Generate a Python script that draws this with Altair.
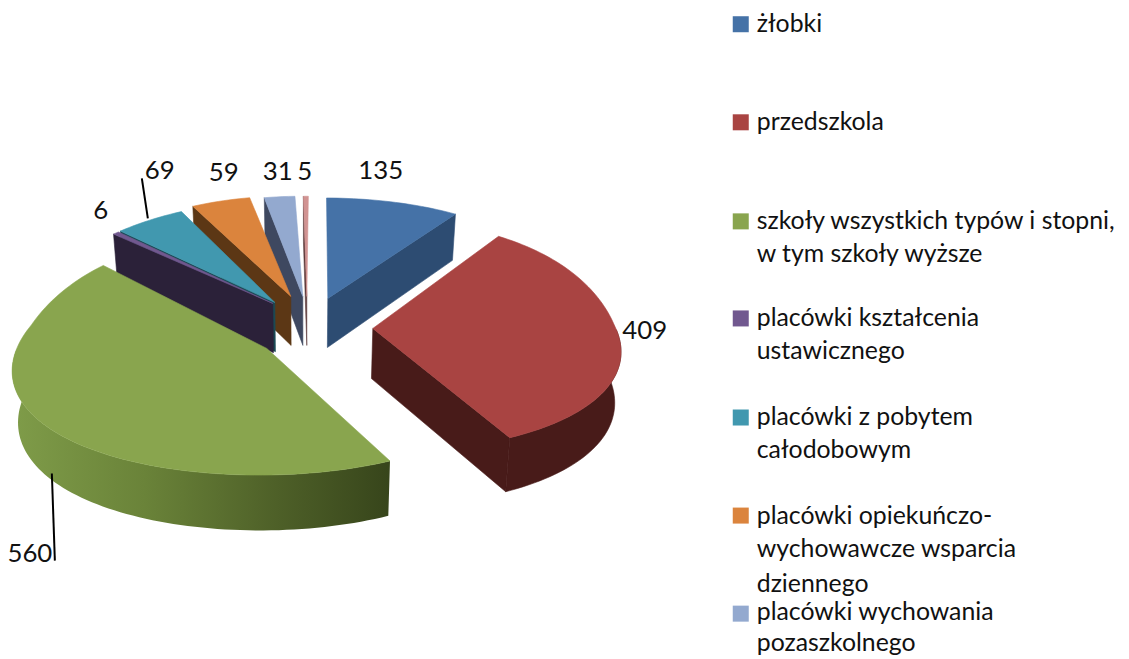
import math
import altair as alt
import pandas as pd

# ---- data ----
values = [135, 409, 560, 6, 69, 59, 31, 5]
top_colors = ["#4572A7", "#A94442", "#89A54E", "#71588F", "#4198AF", "#DB843D", "#93A9CF", "#D19392"]
wall_colors = ["#2D4C72", "#481B19", "#3A471C", "#2B2139", "#1B4954", "#5C3715", "#3E4860", "#5D3B3B"]
legend_lines = [
    ["żłobki"],
    ["przedszkola"],
    ["szkoły wszystkich typów i stopni,", "w tym szkoły wyższe"],
    ["placówki kształcenia", "ustawicznego"],
    ["placówki z pobytem", "całodobowym"],
    ["placówki opiekuńczo-", "wychowawcze wsparcia", "dziennego"],
    ["placówki wychowania", "pozaszkolnego"],
]
legend_line_y = [[24], [122], [221, 254], [318, 351], [417, 450], [515, 548, 583], [611, 642]]
legend_square_y = [24, 122, 221, 318, 417, 515, 613]
label_xy = [(381, 171), (645, 331), (30, 553), (101, 211), (160, 171), (224, 173), (278, 172), (305, 172)]
leaders = [(142, 178, 148, 218), (52, 473, 55, 560)]
# where the tip of each pulled-out slice sits, and how its rim departs from the model
tips = [(328, 298), (373, 328), (267, 348), (273, 303), (275, 302), (291, 296), (303, 296), (307, 296)]
rim_nudge = [2, 0, 0, -5, -5, -9, -4, 2]
rim_lift = [8, 9, 10, 0, 0, 0, 0, 0]

# ---- layout of the exploded 3-D pie ----
W, H = 1121, 651
CX, CY, R = 306, 325, 242
K, TY, TX = 0.465, 0.08, 0.16   # tilt and perspective
DEPTH = 50
FONT = "Lato"
xs = alt.Scale(domain=[8.14, 1121.3], range=[0, W], nice=False, zero=False)
ys = alt.Scale(domain=[10.1, 656.0], range=[0, H], nice=False, zero=False)


def project(X, Y, low=False, lift=0):
    px = 1 / (1 + TX * Y)
    py = 1 / (1 + TY * Y)
    sx = R * X * px
    sy = -K * R * Y * py
    if 0 < Y < 1.24:
        sy -= lift * math.sin(math.pi * Y / 1.24)
    if low:
        sx *= 0.98
        sy += DEPTH * py
    return CX + sx, CY + sy


def unproject(x, y):
    X, Y = 0.0, 0.0
    for _ in range(20):
        Y = (CY - y) / (K * R) * (1 + TY * Y)
        X = (x - CX) / R * (1 + TX * Y)
    return X, Y


def poly(pts, fill, stroke=None):
    pts = list(pts) + [pts[0]]
    df = pd.DataFrame({"x": [a for a, _ in pts], "y": [b for _, b in pts], "i": range(len(pts))})
    kw = {"stroke": stroke, "strokeWidth": 0.6} if stroke else {"strokeWidth": 0}
    return alt.Chart(df).mark_line(fill=fill, interpolate="linear", **kw).encode(
        x=alt.X("x:Q", scale=xs, axis=None),
        y=alt.Y("y:Q", scale=ys, axis=None),
        order="i:Q",
    )


def gradient(stops):
    return alt.Gradient(gradient="linear", x1=0, y1=0, x2=1, y2=0,
                        stops=[alt.GradientStop(color=c, offset=o) for o, c in stops])


total = sum(values)
angles = [0]
for v in values:
    angles.append(angles[-1] + v / total * 360)

green_rim = gradient([(0, "#7F9C49"), (0.35, "#6A8339"), (0.7, "#4E6028"), (1, "#37451B")])

layers = {}
for s in range(len(values)):
    a0, a1 = angles[s], angles[s + 1]
    ox, oy = unproject(*tips[s])
    n = max(3, int((a1 - a0) / 1.5))
    arc = [a0 + (a1 - a0) * i / n for i in range(n + 1)]
    shift = ox + rim_nudge[s] / R
    world = [(shift + math.sin(math.radians(a)), oy + math.cos(math.radians(a))) for a in arc]
    lift = rim_lift[s]
    top = [project(ox, oy)] + [project(*w, lift=lift) for w in world]
    parts = []
    # the radial wall that faces the viewer
    if a1 < 180:
        edge = world[-1]
    elif a0 >= 180:
        edge = world[0]
    else:
        edge = None
    if edge:
        parts.append(poly([project(ox, oy), project(*edge, lift=lift), project(*edge, low=True, lift=lift),
                           project(ox, oy, low=True)],
                          wall_colors[s], wall_colors[s]))
    # the outer rim on the front half
    front = [w for w, a in zip(world, arc) if 90 <= a <= 270]
    if len(front) > 1:
        rim = [project(*w, lift=lift) for w in front] + [project(*w, low=True, lift=lift) for w in reversed(front)]
        if s == 2:
            parts.append(poly(rim, green_rim))
        else:
            parts.append(poly(rim, wall_colors[s], wall_colors[s]))
    parts.append(poly(top, top_colors[s], top_colors[s]))
    layers[s] = parts

paint_order = [0, 7, 6, 5, 4, 3, 2, 1]
charts = [c for s in paint_order for c in layers[s]]

square_df = pd.DataFrame({"y": legend_square_y, "x": [741] * len(legend_square_y),
                          "c": top_colors[:len(legend_square_y)]})
charts.append(alt.Chart(square_df).mark_square(size=260, opacity=1).encode(
    x=alt.X("x:Q", scale=xs, axis=None), y=alt.Y("y:Q", scale=ys, axis=None),
    fill=alt.Fill("c:N", scale=None, legend=None)))

rows = [{"t": t, "y": y} for ls, yy in zip(legend_lines, legend_line_y) for t, y in zip(ls, yy)]
leg_df = pd.DataFrame(rows).assign(x=757)
charts.append(alt.Chart(leg_df).mark_text(align="left", baseline="middle", font=FONT, fontSize=25, color="#111111").encode(
    x=alt.X("x:Q", scale=xs, axis=None), y=alt.Y("y:Q", scale=ys, axis=None), text="t:N"))

lab_df = pd.DataFrame({"v": [str(v) for v in values], "x": [p[0] for p in label_xy], "y": [p[1] for p in label_xy]})
charts.append(alt.Chart(lab_df).mark_text(align="center", baseline="middle", font=FONT, fontSize=26, color="#111111").encode(
    x=alt.X("x:Q", scale=xs, axis=None), y=alt.Y("y:Q", scale=ys, axis=None), text="v:N"))

lead_df = pd.DataFrame(leaders, columns=["x", "y", "x2", "y2"])
charts.append(alt.Chart(lead_df).mark_rule(color="#000000", strokeWidth=2).encode(
    x=alt.X("x:Q", scale=xs, axis=None), y=alt.Y("y:Q", scale=ys, axis=None), x2="x2:Q", y2="y2:Q"))

chart = alt.layer(*charts).properties(
    width=W, height=H, padding=0, autosize=alt.AutoSizeParams(type="none"),
    background="#FFFFFF",
).configure_view(stroke=None)

chart.save("out.html", embed_options={"renderer": "svg", "actions": False})
